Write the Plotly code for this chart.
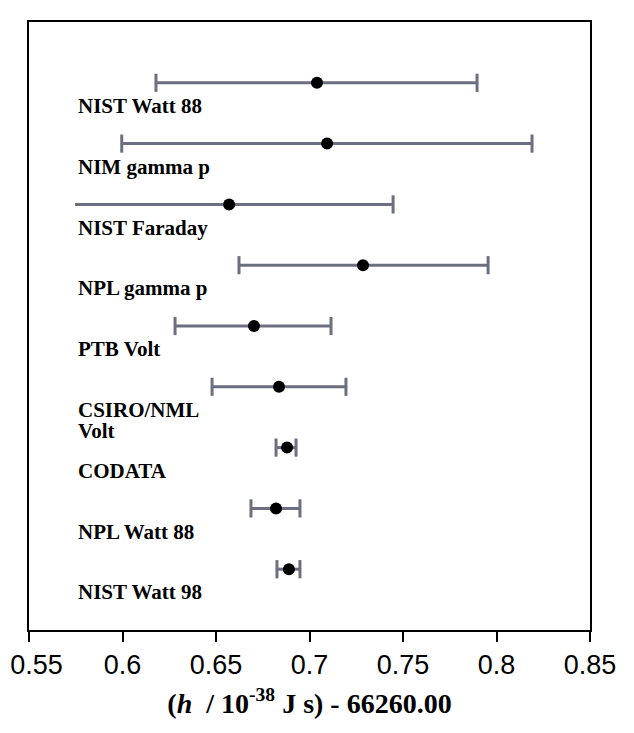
import plotly.graph_objects as go

# Data
labels = ["NIST Watt 88", "NIM gamma p", "NIST Faraday", "NPL gamma p", "PTB Volt",
          "CSIRO/NML<br>Volt", "CODATA", "NPL Watt 88", "NIST Watt 98"]
values = [0.7040, 0.7094, 0.6570, 0.7286, 0.6703, 0.6837, 0.6880, 0.6821, 0.6890]
lows = [0.6179, 0.5996, 0.5746, 0.6623, 0.6281, 0.6479, 0.6821, 0.6687, 0.6826]
highs = [0.7896, 0.8190, 0.7447, 0.7955, 0.7115, 0.7195, 0.6928, 0.6949, 0.6949]
low_capped = [True, True, False, True, True, True, True, True, True]
rows = [9, 8, 7, 6, 5, 4, 3, 2, 1]
tick_vals = [0.55, 0.6, 0.65, 0.7, 0.75, 0.8, 0.85]
tick_text = ["0.55", "0.6", "0.65", "0.7", "0.75", "0.8", "0.85"]

BAR = "#6c6f82"
SERIF = "Liberation Serif, Times New Roman, serif"

fig = go.Figure()

# error bar lines
lx, ly = [], []
for lo, hi, r in zip(lows, highs, rows):
    lx += [lo, hi, None]
    ly += [r, r, None]
fig.add_trace(go.Scatter(x=lx, y=ly, mode="lines",
                         line=dict(color=BAR, width=3), hoverinfo="skip", showlegend=False))

# caps
cx = [lo for lo, c in zip(lows, low_capped) if c] + highs
cy = [r for r, c in zip(rows, low_capped) if c] + rows
fig.add_trace(go.Scatter(x=cx, y=cy, mode="markers",
                         marker=dict(symbol="line-ns", size=13, line=dict(color=BAR, width=3)),
                         hoverinfo="skip", showlegend=False))

# central values
fig.add_trace(go.Scatter(x=values, y=rows, mode="markers",
                         marker=dict(color="black", size=12), showlegend=False))

for lab, r in zip(labels, rows):
    for k, part in enumerate(lab.split("<br>")):
        fig.add_annotation(x=0.083, xref="paper", y=r - 0.15 - 0.34 * k, yref="y",
                           text="<b>" + part + "</b>",
                           showarrow=False, xanchor="left", yanchor="top", align="left",
                           font=dict(family=SERIF, size=21, color="black"))

# keep the first tick label inside the page (nudged right with non-breaking spaces)
shown_ticks = ["\u00a0\u00a0" + tick_text[0]] + tick_text[1:]

fig.update_layout(
    width=634, height=733,
    margin=dict(l=21, r=52, t=14, b=111),
    paper_bgcolor="white", plot_bgcolor="white",
    xaxis=dict(range=[0.55, 0.85], tickvals=tick_vals, ticktext=shown_ticks, automargin=False,
               ticklabeloverflow="allow",
               showline=True, linecolor="black", linewidth=2, mirror=True,
               ticks="outside", ticklen=10, tickwidth=2, tickcolor="black",
               showgrid=False, zeroline=False,
               tickfont=dict(family="Liberation Sans, Arial, sans-serif", size=27, color="black"),
               title=dict(text="<b>(<i>h</i>  / 10<sup>-38</sup> J s) - 66260.00</b>",
                          font=dict(family=SERIF, size=28, color="black"), standoff=14)),
    yaxis=dict(range=[0, 10], showline=True, linecolor="black", linewidth=2, mirror=True,
               automargin=False,
               showticklabels=False, ticks="", showgrid=False, zeroline=False),
)

fig.write_html("out.html")
